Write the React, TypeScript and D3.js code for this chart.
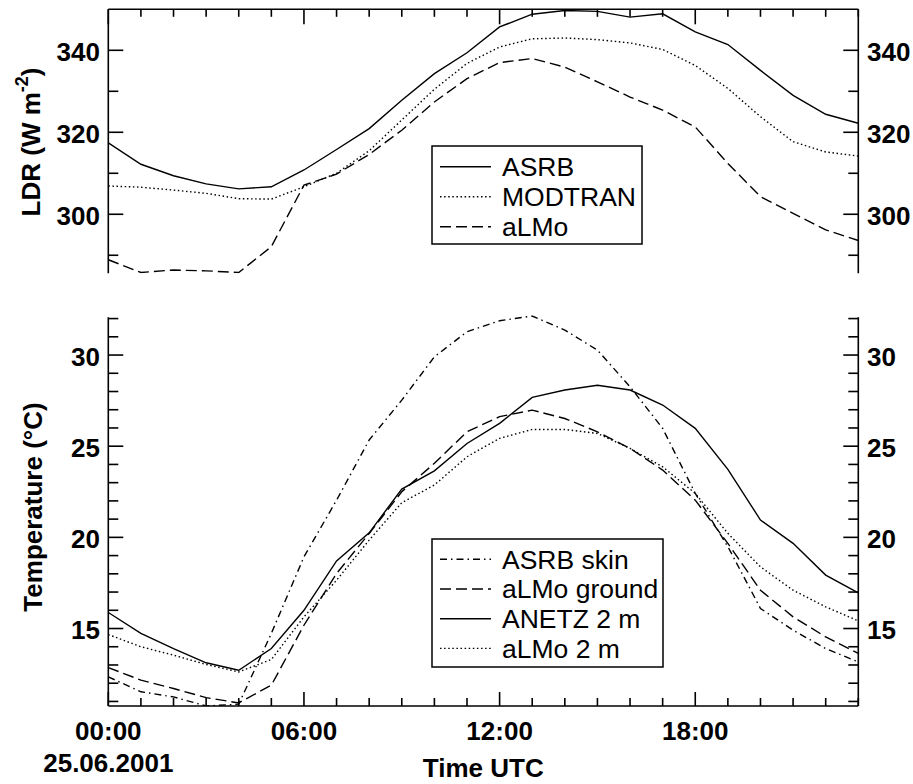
import React from "react";
import * as d3 from "d3";

const hours = d3.range(0, 24);

// Top panel: LDR (W m-2)
const ldrASRB = [317.4, 312.2, 309.4, 307.4, 306.2, 306.7, 310.8, 315.8, 320.9, 327.8, 334.3, 339.4, 345.7, 348.8, 349.7, 349.5, 348.1, 348.9, 344.5, 341.4, 335.1, 329.0, 324.4, 322.2];
const ldrMODTRAN = [306.9, 306.6, 305.9, 305.1, 303.8, 303.7, 306.7, 310.0, 315.5, 323.0, 330.5, 336.8, 340.8, 342.8, 343.0, 342.6, 341.8, 340.2, 336.3, 330.7, 323.8, 317.7, 315.2, 314.2];
const ldrALMo = [288.9, 285.8, 286.4, 286.2, 285.8, 292.1, 307.1, 309.8, 314.6, 320.5, 327.4, 333.1, 337.0, 338.0, 335.9, 332.3, 328.6, 325.4, 321.3, 312.4, 304.3, 300.2, 296.2, 293.6];

// Bottom panel: Temperature (°C)
const tSkin = [12.35, 11.53, 11.25, 10.75, 10.85, 14.73, 18.93, 22.04, 25.34, 27.53, 29.9, 31.28, 31.88, 32.14, 31.37, 30.27, 28.26, 25.98, 22.41, 19.49, 16.1, 14.91, 13.9, 13.17];
const tGround = [12.86, 12.17, 11.71, 11.21, 10.92, 11.89, 15.18, 18.02, 20.21, 22.5, 24.06, 25.79, 26.62, 26.98, 26.52, 25.79, 24.88, 23.69, 22.04, 19.67, 17.1, 15.64, 14.54, 13.63];
const tANETZ = [15.88, 14.73, 13.9, 13.12, 12.71, 13.9, 16.0, 18.71, 20.25, 22.65, 23.65, 25.15, 26.25, 27.68, 28.08, 28.34, 28.08, 27.26, 25.98, 23.73, 20.95, 19.67, 17.93, 16.96];
const tALMo2m = [14.67, 14.0, 13.54, 13.03, 12.62, 13.3, 15.64, 17.65, 19.85, 21.9, 22.87, 24.42, 25.43, 25.92, 25.92, 25.7, 24.88, 23.87, 22.41, 20.22, 18.38, 17.1, 16.19, 15.42];

const topMajor = [300, 320, 340];
const topMinor = [290, 310, 330];
const botMajor = [15, 20, 25, 30];
const botMinor = d3.range(11, 33).filter((v) => v % 5 !== 0);
const xLabels = ["00:00", "06:00", "12:00", "18:00"];
const xLabelHours = [0, 6, 12, 18];

const topLegend = ["ASRB", "MODTRAN", "aLMo"];
const botLegend = ["ASRB skin", "aLMo ground", "ANETZ 2 m", "aLMo 2 m"];

const FONT = "'Liberation Sans', Arial, Helvetica, sans-serif";
const DOT = "1.5,2.6";
const DASH = "11,5";
const DASHDOT = "7,4,1.5,4";

export default function App() {
  const x = d3.scaleLinear().domain([0, 23]).range([108.3, 858.3]);
  const yTop = d3.scaleLinear().domain([285.6, 350]).range([273.3, 9.3]);
  const yBot = d3.scaleLinear().domain([10.75, 32.07]).range([706, 317.3]);
  const x0 = x(0), x1 = x(23);

  const lineTop = d3.line<number>().x((_, i) => x(hours[i])).y((d) => yTop(d));
  const lineBot = d3.line<number>().x((_, i) => x(hours[i])).y((d) => yBot(d));

  const stroke = "#000";
  const lw = 1.4;
  const axw = 1.6;

  const topSeries = [
    { data: ldrASRB, dash: undefined },
    { data: ldrMODTRAN, dash: DOT },
    { data: ldrALMo, dash: DASH },
  ];
  const botSeries = [
    { data: tSkin, dash: DASHDOT },
    { data: tGround, dash: DASH },
    { data: tANETZ, dash: undefined },
    { data: tALMo2m, dash: DOT },
  ];

  const tTop = yTop.range()[1];
  const bTop = yTop.range()[0];
  const tBot = yBot.range()[1];
  const bBot = yBot.range()[0];

  return (
    <svg width={913} height={784} style={{ position: "absolute", left: 0, top: 0, background: "#fff" }} fontFamily={FONT}>
      <defs>
        <clipPath id="clipTop"><rect x={x0} y={tTop} width={x1 - x0} height={bTop - tTop} /></clipPath>
        <clipPath id="clipBot"><rect x={x0} y={tBot - 2} width={x1 - x0} height={bBot - tBot + 2} /></clipPath>
      </defs>

      {/* ---------- Top panel ---------- */}
      <g clipPath="url(#clipTop)">
        {topSeries.map((s, i) => (
          <path key={i} d={lineTop(s.data) || ""} fill="none" stroke={stroke} strokeWidth={lw} strokeDasharray={s.dash} />
        ))}
      </g>
      <g stroke={stroke} strokeWidth={axw} fill="none">
        <line x1={x0} x2={x1} y1={tTop} y2={tTop} />
        <line x1={x0} x2={x0} y1={tTop} y2={bTop} />
        <line x1={x1} x2={x1} y1={tTop} y2={bTop} />
        {hours.map((h) => (
          <line key={h} x1={x(h)} x2={x(h)} y1={tTop} y2={tTop + (h % 6 === 0 ? 15 : 7.5)} />
        ))}
        {topMajor.map((v) => (
          <g key={v}>
            <line x1={x0} x2={x0 + 15} y1={yTop(v)} y2={yTop(v)} />
            <line x1={x1} x2={x1 - 15} y1={yTop(v)} y2={yTop(v)} />
          </g>
        ))}
        {topMinor.map((v) => (
          <g key={v}>
            <line x1={x0} x2={x0 + 10} y1={yTop(v)} y2={yTop(v)} />
            <line x1={x1} x2={x1 - 10} y1={yTop(v)} y2={yTop(v)} />
          </g>
        ))}
      </g>
      <g fontSize={26} fontWeight="bold" fill="#000">
        {topMajor.map((v) => (
          <g key={v}>
            <text x={100} y={yTop(v) + 10.5} textAnchor="end">{v}</text>
            <text x={867} y={yTop(v) + 10.5} textAnchor="start">{v}</text>
          </g>
        ))}
      </g>
      <text transform="translate(40,142) rotate(-90)" textAnchor="middle" fontSize={26} fontWeight="bold">
        LDR (W m<tspan fontSize={18} dy={-12}>-2</tspan><tspan dy={12}>)</tspan>
      </text>
      {/* top legend */}
      <rect x={432} y={146} width={210} height={98} fill="#fff" stroke={stroke} strokeWidth={1.5} />
      {topLegend.map((name, i) => {
        const cy = 166.7 + i * 30;
        return (
          <g key={name}>
            <line x1={440} x2={491} y1={cy} y2={cy} stroke={stroke} strokeWidth={lw} strokeDasharray={topSeries[i].dash} />
            <text x={502} y={cy + 9.3} fontSize={26.5}>{name}</text>
          </g>
        );
      })}

      {/* ---------- Bottom panel ---------- */}
      <g clipPath="url(#clipBot)">
        {botSeries.map((s, i) => (
          <path key={i} d={lineBot(s.data) || ""} fill="none" stroke={stroke} strokeWidth={lw} strokeDasharray={s.dash} />
        ))}
      </g>
      <g stroke={stroke} strokeWidth={axw} fill="none">
        <line x1={x0} x2={x1} y1={bBot} y2={bBot} />
        <line x1={x0} x2={x0} y1={tBot} y2={bBot} />
        <line x1={x1} x2={x1} y1={tBot} y2={bBot} />
        {hours.map((h) => (
          <line key={h} x1={x(h)} x2={x(h)} y1={bBot} y2={bBot - (h % 6 === 0 ? 14 : 8)} />
        ))}
        {botMajor.map((v) => (
          <g key={v}>
            <line x1={x0} x2={x0 + 15} y1={yBot(v)} y2={yBot(v)} />
            <line x1={x1} x2={x1 - 15} y1={yBot(v)} y2={yBot(v)} />
          </g>
        ))}
        {botMinor.map((v) => (
          <g key={v}>
            <line x1={x0} x2={x0 + 10} y1={yBot(v)} y2={yBot(v)} />
            <line x1={x1} x2={x1 - 10} y1={yBot(v)} y2={yBot(v)} />
          </g>
        ))}
      </g>
      <g fontSize={26} fontWeight="bold" fill="#000">
        {botMajor.map((v) => (
          <g key={v}>
            <text x={100} y={yBot(v) + 10.5} textAnchor="end">{v}</text>
            <text x={867} y={yBot(v) + 10.5} textAnchor="start">{v}</text>
          </g>
        ))}
        {xLabels.map((l, i) => (
          <text key={l} x={x(xLabelHours[i])} y={739.5} textAnchor="middle">{l}</text>
        ))}
        <text x={x(0)} y={771.5} textAnchor="middle">25.06.2001</text>
        <text x={(x0 + x1) / 2} y={777} textAnchor="middle">Time UTC</text>
      </g>
      <text transform="translate(42,507) rotate(-90)" textAnchor="middle" fontSize={26} fontWeight="bold">
        Temperature (°C)
      </text>
      {/* bottom legend */}
      <rect x={432} y={539} width={231} height={128} fill="#fff" stroke={stroke} strokeWidth={1.5} />
      {botLegend.map((name, i) => {
        const cy = 559.3 + i * 29.7;
        return (
          <g key={name}>
            <line x1={440} x2={491} y1={cy} y2={cy} stroke={stroke} strokeWidth={lw} strokeDasharray={botSeries[i].dash} />
            <text x={502} y={cy + 9.3} fontSize={26.5}>{name}</text>
          </g>
        );
      })}
    </svg>
  );
}
